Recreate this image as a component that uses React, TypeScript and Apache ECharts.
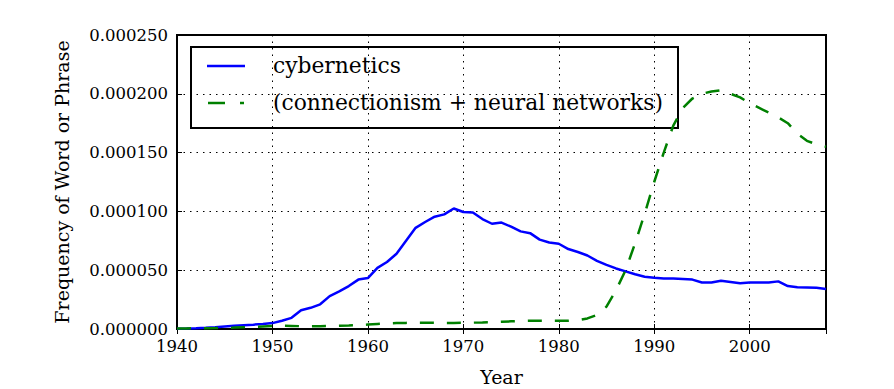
import React, { useEffect, useRef } from "react";
import * as echarts from "echarts";

const years: number[] = [];
for (let y = 1940; y <= 2008; y++) years.push(y);

// values in units of 1e-6
const cybernetics = [
  0.3, 0.4, 0.6, 1, 1.5, 2.2, 2.7, 3.2, 3.7, 4.3,
  5, 7, 9.5, 16, 18, 21, 28, 32, 36.5, 42,
  43.3, 52, 57, 64, 75, 86, 91, 95.5, 97.5, 102.5,
  99.5, 99, 93.5, 89.5, 90.5, 87, 83, 81.5, 76, 73.5,
  72.5, 68, 65.5, 62.5, 58, 54.5, 51.5, 49, 46.5, 44.5,
  43.5, 43, 43, 42.5, 42, 39.5, 39.5, 41, 40, 39,
  39.5, 39.5, 39.5, 40.5, 36.5, 35.5, 35.3, 35, 34,
];
const connectionism = [
  0.5, 0.5, 0.6, 0.7, 0.8, 1, 1.2, 1.5, 1.8, 2.2,
  2.5, 2.8, 2.6, 2.4, 2.3, 2.4, 2.6, 2.8, 3, 3.3,
  3.8, 4.3, 4.8, 5, 5.2, 5.4, 5.4, 5.3, 5.2, 5.2,
  5.3, 5.4, 5.6, 5.9, 6.2, 6.5, 6.8, 7, 7.1, 7,
  7, 7, 7.5, 9, 12, 19, 33, 50, 73, 98,
  125, 150, 173, 188, 196, 200, 202, 203, 200, 197,
  192, 188, 184, 180, 175, 166, 160, 157, 155,
];

const seriesNames = ["cybernetics", "(connectionism + neural networks)"];
const xTicks = [1940, 1950, 1960, 1970, 1980, 1990, 2000];

const FONT = "DejaVu Serif";

export default function App() {
  const ref = useRef<HTMLDivElement>(null);
  useEffect(() => {
    if (!ref.current) return;
    const chart = echarts.init(ref.current, undefined, { renderer: "svg" });
    const toPairs = (arr: number[]) => arr.map((v, i) => [years[i], v * 1e-6]);
    const tick = { show: true, inside: true, length: 5, lineStyle: { color: "#000", width: 1 } };
    const split = { show: true, lineStyle: { color: "#000", width: 1, type: [1.5, 5] as number[] } };
    const labelStyle = { color: "#000", fontFamily: FONT, fontSize: 16.5 };
    chart.setOption({
      animation: false,
      backgroundColor: "#fff",
      textStyle: { fontFamily: FONT },
      grid: {
        left: 177, right: 68, top: 35, bottom: 60,
        containLabel: false, outerBoundsMode: "none",
        show: true, borderColor: "#000", borderWidth: 2, backgroundColor: "#fff",
      },
      xAxis: [
        {
          type: "value", min: 1940, max: 2008, interval: 10, position: "bottom",
          name: "Year", nameLocation: "middle", nameGap: 38,
          nameTextStyle: { color: "#000", fontFamily: FONT, fontSize: 19 },
          axisLine: { show: false }, axisTick: tick, splitLine: split,
          axisLabel: {
            ...labelStyle, margin: 9,
            formatter: (v: number) => (xTicks.includes(Math.round(v)) ? String(Math.round(v)) : ""),
          },
        },
        {
          type: "value", min: 1940, max: 2008, interval: 10, position: "top",
          axisLine: { show: false }, axisTick: tick, splitLine: { show: false },
          axisLabel: { show: false },
        },
      ],
      yAxis: [
        {
          type: "value", min: 0, max: 0.00025, interval: 0.00005, position: "left",
          name: "Frequency of Word or Phrase", nameLocation: "middle", nameGap: 106,
          nameTextStyle: { color: "#000", fontFamily: FONT, fontSize: 19 },
          axisLine: { show: false }, axisTick: tick, splitLine: split,
          axisLabel: { ...labelStyle, margin: 9, formatter: (v: number) => v.toFixed(6) },
        },
        {
          type: "value", min: 0, max: 0.00025, interval: 0.00005, position: "right",
          axisLine: { show: false }, axisTick: tick, splitLine: { show: false },
          axisLabel: { show: false },
        },
      ],
      series: [
        {
          name: seriesNames[0], type: "line", data: toPairs(cybernetics),
          showSymbol: false, symbol: "none", z: 3,
          lineStyle: { color: "#0000ff", width: 2.5 },
        },
        {
          name: seriesNames[1], type: "line", data: toPairs(connectionism),
          showSymbol: false, symbol: "none", z: 3,
          lineStyle: { color: "#008000", width: 2.5, type: [14, 13] },
        },
      ],
      graphic: [
        {
          type: "group", z: 100,
          children: [
            { type: "rect", shape: { x: 191, y: 47, width: 487, height: 81 }, style: { fill: "#fff", stroke: "#000", lineWidth: 2 } },
            { type: "line", shape: { x1: 207, y1: 66, x2: 245, y2: 66 }, style: { stroke: "#0000ff", lineWidth: 2.5 } },
            { type: "line", shape: { x1: 208, y1: 103, x2: 225, y2: 103 }, style: { stroke: "#008000", lineWidth: 2.5 } },
            { type: "line", shape: { x1: 240, y1: 103, x2: 244, y2: 103 }, style: { stroke: "#008000", lineWidth: 2.5 } },
            { type: "text", x: 273, y: 65, style: { text: seriesNames[0], fill: "#000", fontFamily: FONT, fontSize: 21.8, verticalAlign: "middle", align: "left" } },
            { type: "text", x: 273, y: 102, style: { text: seriesNames[1], fill: "#000", fontFamily: FONT, fontSize: 21.8, verticalAlign: "middle", align: "left" } },
          ],
        },
      ],
    });
    return () => chart.dispose();
  }, []);
  return <div ref={ref} style={{ position: "fixed", left: 0, top: 0, width: 894, height: 389 }} />;
}
